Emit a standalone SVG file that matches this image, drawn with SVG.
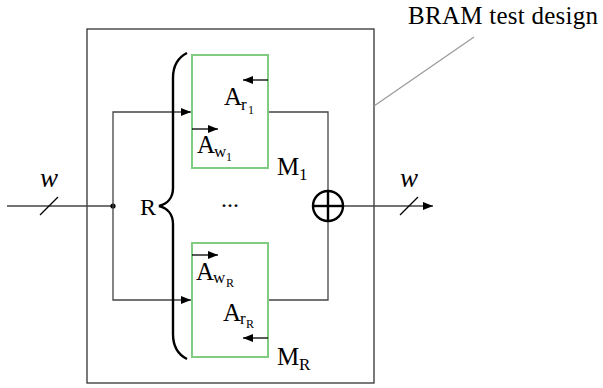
<svg xmlns="http://www.w3.org/2000/svg" width="603" height="388" viewBox="0 0 603 388">
<defs>
<marker id="ah" viewBox="0 0 10 8" refX="10" refY="4" markerWidth="10" markerHeight="8" markerUnits="userSpaceOnUse" orient="auto"><path d="M0,0 L10,4 L0,8 z" fill="#000"/></marker>
</defs>
<style>
.t{font-family:"Liberation Serif","Times New Roman",serif;fill:#000}
.i{font-style:italic}
.w{stroke:#444;stroke-width:1.3;fill:none}
.mem{fill:none;stroke:#80cc80;stroke-width:2}
.ar{stroke:#000;stroke-width:1.3;fill:none;marker-end:url(#ah)}
</style>
<rect width="603" height="388" fill="#fff"/>
<g id="bram">
<rect x="87" y="29" width="287" height="354" fill="none" stroke="#333" stroke-width="1.3"/>
<line x1="374" y1="106" x2="474" y2="37" stroke="#999" stroke-width="1.2"/>
<text class="t" x="408" y="24" font-size="25" textLength="190" lengthAdjust="spacing">BRAM test design</text>
</g>
<g id="connectors">
<line class="w" x1="7" y1="206" x2="113" y2="206"/>
<line x1="40" y1="215" x2="58" y2="197" stroke="#000" stroke-width="1.3"/>
<circle cx="113" cy="206" r="2.6" fill="#000"/>
<polyline class="w" points="113,206 113,112 191,112" marker-end="url(#ah)"/>
<polyline class="w" points="113,206 113,300 191,300" marker-end="url(#ah)"/>
<polyline class="w" points="268,112 328,112 328,191"/>
<polyline class="w" points="268,300 328,300 328,221"/>
<line class="w" x1="343" y1="206" x2="433" y2="206" marker-end="url(#ah)"/>
<line x1="400" y1="215" x2="418" y2="197" stroke="#000" stroke-width="1.3"/>
</g>
<g id="labels">
<text class="t i" x="49" y="187" font-size="27" text-anchor="middle">w</text>
<text class="t i" x="409" y="187" font-size="27" text-anchor="middle">w</text>
<text class="t" x="140" y="215" font-size="24">R</text>
<text class="t" x="230" y="207" font-size="24" text-anchor="middle">...</text>
</g>
<g id="brace">
<path d="M187,53 C177,58 173,66 173,78 L173,188 C173,198 167,204 159,206 C167,208 173,214 173,224 L173,334 C173,346 177,354 187,359" fill="none" stroke="#000" stroke-width="2.4"/>
</g>
<g id="xor">
<circle cx="328" cy="206" r="15" fill="none" stroke="#000" stroke-width="2.4"/>
<line x1="313" y1="206" x2="343" y2="206" stroke="#000" stroke-width="2.4"/>
<line x1="328" y1="191" x2="328" y2="221" stroke="#000" stroke-width="2.4"/>
</g>
<g id="M1">
<rect class="mem" x="192" y="55" width="76" height="113"/>
<line class="ar" x1="268" y1="80" x2="243" y2="80"/>
<line class="ar" x1="192" y1="129" x2="218" y2="129"/>
<text class="t" x="224" y="105" font-size="25">A</text>
<text class="t" x="241" y="110" font-size="17">r</text>
<text class="t" x="248" y="114" font-size="12">1</text>
<text class="t" x="197" y="153" font-size="25">A</text>
<text class="t" x="214" y="157" font-size="17">w</text>
<text class="t" x="226" y="161" font-size="12">1</text>
<text class="t" x="277" y="175" font-size="25">M</text>
<text class="t" x="299" y="180" font-size="17">1</text>
</g>
<g id="MR">
<rect class="mem" x="192" y="243" width="76" height="114"/>
<line class="ar" x1="192" y1="255" x2="218" y2="255"/>
<line class="ar" x1="268" y1="338" x2="243" y2="338"/>
<text class="t" x="196" y="280" font-size="25">A</text>
<text class="t" x="213" y="283" font-size="17">w</text>
<text class="t" x="226" y="287" font-size="12">R</text>
<text class="t" x="223" y="321" font-size="25">A</text>
<text class="t" x="240" y="324" font-size="17">r</text>
<text class="t" x="246" y="328" font-size="12">R</text>
<text class="t" x="277" y="365" font-size="25">M</text>
<text class="t" x="299" y="370" font-size="17">R</text>
</g>
</svg>
